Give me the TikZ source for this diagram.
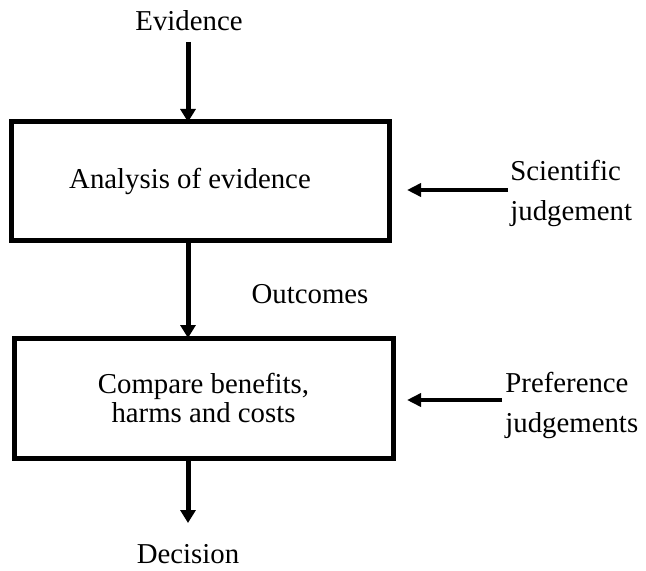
\documentclass[tikz,border=0pt]{standalone}
\usepackage{fontspec}
\setmainfont{Liberation Serif}
\usetikzlibrary{arrows.meta}
\tikzset{
  box/.style={draw=black, line width=2.5pt, rectangle, inner sep=0pt, align=center,
    font=\fontsize{14.4}{14.5}\selectfont},
  side/.style={align=left, inner sep=0pt, font=\fontsize{14.4}{20}\selectfont},
  lbl/.style={inner sep=0pt, font=\fontsize{14.4}{17}\selectfont},
  arr/.style={line width=2.5pt, -{Triangle[length=6.5pt,width=7.5pt]}},
  sarr/.style={line width=2.2pt, -{Triangle[length=7pt,width=6.5pt]}}
}
\begin{document}
\begin{tikzpicture}[x=0.5pt,y=-0.5pt]
\useasboundingbox (0,0) rectangle (646,571);
% boxes
\node[box, minimum width=189pt, minimum height=59.5pt] (b1) at (200,181.5)
  {\hspace*{-10pt}Analysis of evidence};
\node[box, minimum width=189.5pt, minimum height=60pt] (b2) at (203.5,398)
  {Compare benefits,\\ harms and costs};
% texts
\node[lbl, anchor=base] (ev) at (189,31) {Evidence};
\node[lbl, anchor=base] (out) at (310,303) {Outcomes};
\node[lbl, anchor=base] (dec) at (188,563) {Decision};
\node[side, anchor=west] (sci) at (510,193.4) {Scientific\\judgement};
\node[side, anchor=west] (pref) at (505,405) {Preference\\judgements};
% coordinates
\coordinate (evs) at (188,42);
\coordinate (b1top) at (188,122);
\coordinate (b1bot) at (188,241);
\coordinate (b2top) at (188,338);
\coordinate (b2bot) at (188,458);
\coordinate (dect) at (188,523);
\coordinate (scis) at (508,190);
\coordinate (scie) at (407,190);
\coordinate (prefs) at (502,400);
\coordinate (prefe) at (407,400);
% arrows
\draw[arr] (evs) -- (b1top);
\draw[arr] (b1bot) -- (b2top);
\draw[arr] (b2bot) -- (dect);
\draw[sarr] (scis) -- (scie);
\draw[sarr] (prefs) -- (prefe);
\end{tikzpicture}
\end{document}
